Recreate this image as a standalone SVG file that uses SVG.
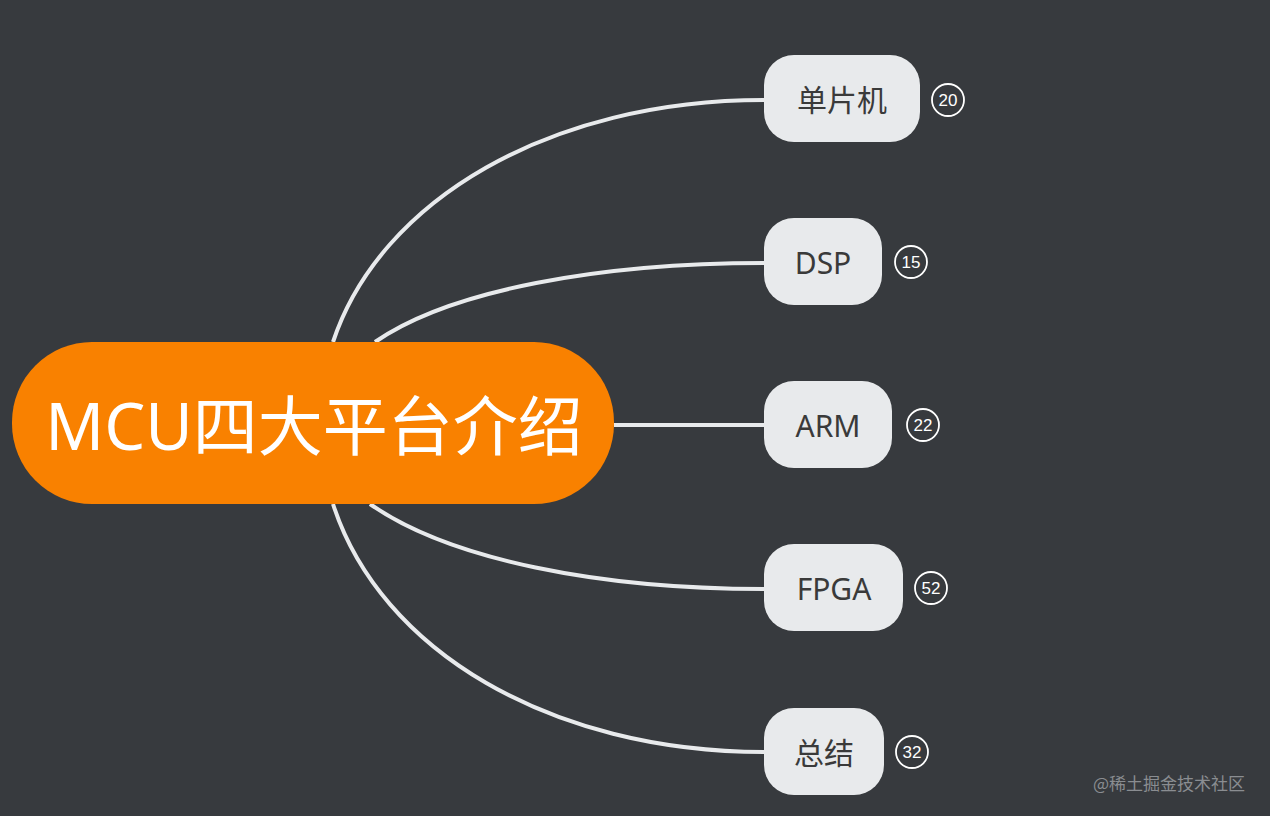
<svg xmlns="http://www.w3.org/2000/svg" width="1270" height="816" viewBox="0 0 1270 816">
<style>
.c{fill:none;stroke:#e8eaec;stroke-width:4}
.n{fill:#e8eaec}
.t{font-family:"Noto Sans","Noto Sans CJK SC",sans-serif;font-size:30px;fill:#3a3a3a;text-anchor:middle;dominant-baseline:central}
.b{fill:none;stroke:#fff;stroke-width:1.8}
.bt{font-family:"Liberation Sans",sans-serif;font-size:17px;fill:#fff;text-anchor:middle;dominant-baseline:central}
</style>
<rect width="1270" height="816" fill="#373a3e"/>
<g id="connectors">
<path class="c" d="M333,342 C380,200 550,100 764,100"/>
<path class="c" d="M375,342 C450,290 600,263 764,263"/>
<path class="c" d="M614,425 L764,425"/>
<path class="c" d="M370,504 C450,560 600,589 764,589"/>
<path class="c" d="M333,504 C380,650 550,752 764,752"/>
</g>
<g id="root">
<rect x="12" y="342" width="602" height="162" rx="80" fill="#f98100"/>
<text x="314" y="425" font-family="Noto Sans,'Noto Sans CJK SC',sans-serif" font-size="65" fill="#fff" text-anchor="middle" dominant-baseline="central">MCU四大平台介绍</text>
</g>
<g id="n1"><rect class="n" x="764" y="55" width="156" height="87" rx="30"/><text class="t" x="842" y="99">单片机</text><circle class="b" cx="948" cy="100" r="16"/><text class="bt" x="948" y="100">20</text></g>
<g id="n2"><rect class="n" x="764" y="218" width="118" height="87" rx="30"/><text class="t" x="823" y="262">DSP</text><circle class="b" cx="911" cy="262" r="16"/><text class="bt" x="911" y="262">15</text></g>
<g id="n3"><rect class="n" x="764" y="381" width="128" height="87" rx="30"/><text class="t" x="828" y="425">ARM</text><circle class="b" cx="923" cy="425" r="16"/><text class="bt" x="923" y="425">22</text></g>
<g id="n4"><rect class="n" x="764" y="544" width="139" height="87" rx="30"/><text class="t" x="834" y="588">FPGA</text><circle class="b" cx="931" cy="588" r="16"/><text class="bt" x="931" y="588">52</text></g>
<g id="n5"><rect class="n" x="764" y="708" width="120" height="87" rx="30"/><text class="t" x="824" y="752">总结</text><circle class="b" cx="912" cy="752" r="16"/><text class="bt" x="912" y="752">32</text></g>
<text x="1245" y="782" font-family="Noto Sans CJK SC,sans-serif" font-size="17" fill="#8a8d91" text-anchor="end" dominant-baseline="central">@稀土掘金技术社区</text>
</svg>
